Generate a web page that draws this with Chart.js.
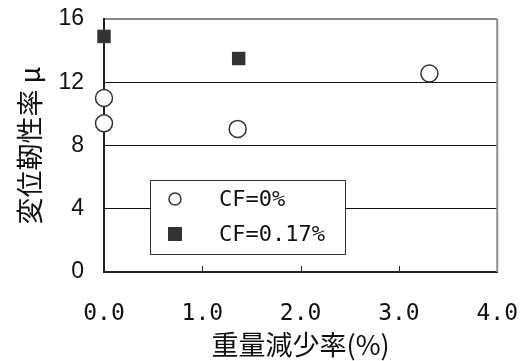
<!DOCTYPE html>
<html lang="ja">
<head>
<meta charset="UTF-8">
<title>変位靭性率と重量減少率</title>
<script src="https://cdn.jsdelivr.net/npm/chart.js"></script>
<style>
  html, body { margin: 0; padding: 0; background: #fff; }
  #wrap { width: 520px; height: 361px; }
</style>
</head>
<body>
<div id="wrap"><canvas id="ductChart" width="520" height="361"></canvas></div>
<script>
// data
const seriesNames = ['CF=0%', 'CF=0.17%'];
const cf0Loss = [0.0, 0.0, 1.36, 3.31];
const cf0Duct = [11.0, 9.4, 9.05, 12.55];
const cf17Loss = [0.0, 1.37];
const cf17Duct = [14.9, 13.5];
const xTicks = [0, 1, 2, 3, 4];
const yTicks = [0, 4, 8, 12, 16];

const toPts = (xs, ys) => xs.map((x, i) => ({ x: x, y: ys[i] }));

const monoFont = "'DejaVu Sans Mono', monospace";
const cjkFont = "'Noto Sans CJK JP', sans-serif";

// right frame, inner x ticks, and the boxed legend inside the plot
const framePlugin = {
  id: 'frame',
  afterDatasetsDraw(chart) {
    const { ctx, chartArea: a, scales } = chart;
    ctx.save();
    ctx.strokeStyle = '#8a8a8a';
    ctx.lineWidth = 2;
    ctx.beginPath();
    ctx.moveTo(a.right, a.top);
    ctx.lineTo(a.right, a.bottom);
    ctx.stroke();

    ctx.strokeStyle = '#222';
    ctx.lineWidth = 1;
    xTicks.slice(1, -1).forEach(v => {
      const px = Math.round(scales.x.getPixelForValue(v)) + 0.5;
      ctx.beginPath();
      ctx.moveTo(px, a.bottom);
      ctx.lineTo(px, a.bottom - 6);
      ctx.stroke();
    });

    // legend box
    const bx = a.left + 46, by = a.top + 161, bw = 195, bh = 74;
    ctx.fillStyle = '#fff';
    ctx.fillRect(bx, by, bw, bh);
    ctx.strokeStyle = '#333';
    ctx.lineWidth = 1;
    ctx.strokeRect(bx + 0.5, by + 0.5, bw, bh);

    const ds = chart.data.datasets;
    ctx.font = '22px ' + monoFont;
    ctx.textBaseline = 'middle';
    // circle
    ctx.beginPath();
    ctx.arc(bx + 25, by + 19, 6, 0, Math.PI * 2);
    ctx.fillStyle = '#fff';
    ctx.fill();
    ctx.strokeStyle = '#333';
    ctx.lineWidth = 1.5;
    ctx.stroke();
    // square
    ctx.fillStyle = '#333';
    ctx.fillRect(bx + 18, by + 47, 14, 14);

    ctx.fillStyle = '#111';
    ctx.fillText(ds[0].label, bx + 69, by + 20);
    ctx.fillText(ds[1].label, bx + 69, by + 55);
    ctx.restore();
  }
};

new Chart(document.getElementById('ductChart'), {
  type: 'scatter',
  data: {
    datasets: [
      {
        label: seriesNames[0],
        data: toPts(cf0Loss, cf0Duct),
        pointStyle: 'circle',
        pointRadius: 8.5,
        pointHoverRadius: 8.5,
        backgroundColor: '#fff',
        borderColor: '#333',
        borderWidth: 1.5,
        clip: false
      },
      {
        label: seriesNames[1],
        data: toPts(cf17Loss, cf17Duct),
        pointStyle: 'rect',
        pointRadius: 9.5,
        pointHoverRadius: 9.5,
        backgroundColor: '#333',
        borderColor: '#333',
        borderWidth: 0,
        clip: false
      }
    ]
  },
  options: {
    responsive: false,
    animation: false,
    layout: { padding: { left: 0, right: 0, top: 19, bottom: 0 } },
    plugins: {
      legend: { display: false },
      tooltip: { enabled: false }
    },
    scales: {
      x: {
        type: 'linear',
        min: 0,
        max: 4,
        afterBuildTicks: s => { s.ticks = xTicks.map(v => ({ value: v })); },
        afterFit: s => { s.height = 89; },
        grid: { drawOnChartArea: false, drawTicks: true, tickLength: 26, tickColor: 'rgba(0,0,0,0)' },
        border: { color: '#222', width: 2 },
        ticks: {
          padding: 2,
          color: '#111',
          font: { family: monoFont, size: 23 },
          maxRotation: 0,
          callback: v => Number(v).toFixed(1)
        },
        title: {
          display: true,
          text: '重量減少率(%)',
          color: '#111',
          font: { family: cjkFont, size: 27, weight: 'normal' },
          padding: { top: 0, bottom: 0 }
        }
      },
      y: {
        type: 'linear',
        min: 0,
        max: 16,
        afterBuildTicks: s => { s.ticks = yTicks.map(v => ({ value: v })); },
        afterFit: s => { s.width = 104; },
        grid: {
          color: c => (c.tick && c.tick.value === 16) ? '#8a8a8a' : '#111',
          lineWidth: c => (c.tick && c.tick.value === 16) ? 2 : 1,
          drawTicks: true,
          tickLength: 18,
          tickColor: 'rgba(0,0,0,0)'
        },
        border: { color: '#222', width: 2 },
        ticks: {
          padding: 2,
          color: '#111',
          font: { family: "'Liberation Sans', Arial, sans-serif", size: 23 }
        },
        title: {
          display: true,
          text: '変位靭性率 μ',
          color: '#111',
          font: { family: cjkFont, size: 27, weight: 'normal' },
          padding: { top: 14, bottom: 0 }
        }
      }
    }
  },
  plugins: [framePlugin]
});
</script>
</body>
</html>
